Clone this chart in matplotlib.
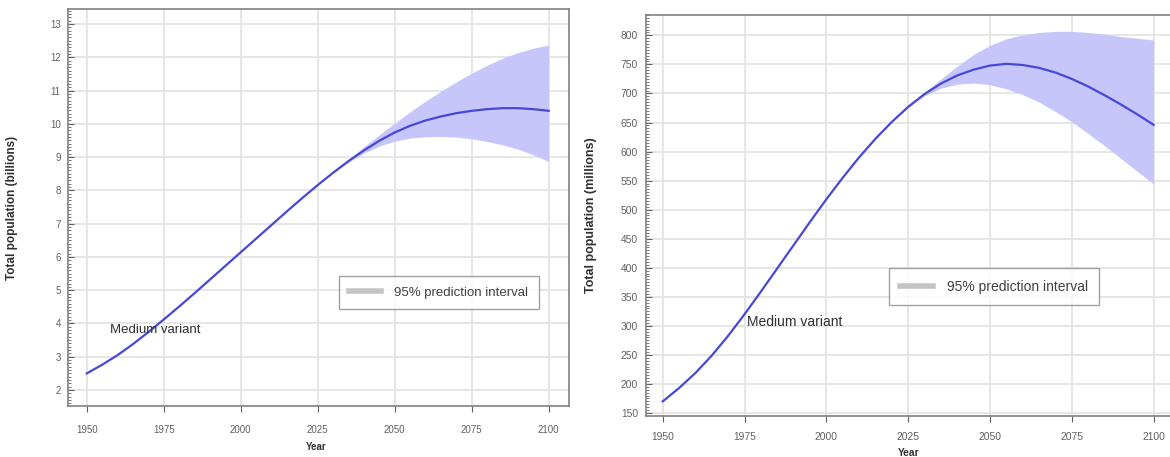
import numpy as np
import matplotlib
matplotlib.use('Agg')
import matplotlib.pyplot as plt
from matplotlib.lines import Line2D
from matplotlib.ticker import MultipleLocator

plt.rcParams['font.family'] = ['Liberation Sans', 'DejaVu Sans']

# World population, medium variant (billions)
years = [1950, 1955, 1960, 1965, 1970, 1975, 1980, 1985, 1990, 1995, 2000,
         2005, 2010, 2015, 2020, 2025, 2030, 2035, 2040, 2045, 2050, 2055,
         2060, 2065, 2070, 2075, 2080, 2085, 2090, 2095, 2100]
world_medium = [2.50, 2.76, 3.05, 3.38, 3.74, 4.12, 4.51, 4.91, 5.32, 5.73, 6.14,
                6.55, 6.96, 7.37, 7.77, 8.16, 8.53, 8.88, 9.20, 9.49, 9.74, 9.94,
                10.10, 10.22, 10.32, 10.39, 10.44, 10.47, 10.47, 10.44, 10.39]

# Latin America and the Caribbean, medium variant (millions)
region_medium = [170, 193, 219, 249, 283, 320, 359, 399, 439, 479, 518,
                 555, 590, 622, 651, 677, 699, 717, 731, 741, 748, 751,
                 749, 744, 736, 725, 712, 697, 681, 664, 646]

# 95% prediction intervals
pi_years = [2020, 2025, 2030, 2035, 2040, 2045, 2050, 2055, 2060, 2065, 2070,
            2075, 2080, 2085, 2090, 2095, 2100]
world_low = [7.77, 8.16, 8.52, 8.85, 9.12, 9.33, 9.48, 9.57, 9.61, 9.62, 9.60,
             9.55, 9.47, 9.37, 9.24, 9.07, 8.87]
world_high = [7.77, 8.17, 8.56, 8.94, 9.31, 9.67, 10.02, 10.36, 10.68, 10.98, 11.26,
              11.52, 11.76, 11.97, 12.14, 12.27, 12.37]
region_low = [651, 676, 696, 709, 716, 718, 715, 708, 698, 685, 669,
              651, 631, 610, 588, 566, 544]
region_high = [651, 678, 702, 725, 747, 767, 783, 794, 801, 805, 807,
               807, 805, 802, 798, 795, 792]

xticks = [1950, 1975, 2000, 2025, 2050, 2075, 2100]

line_color = '#4848d8'
band_color = '#c6c6fb'
grid_color = '#e4e4e4'
tick_color = '#606060'

fig = plt.figure(figsize=(11.7, 4.57), dpi=100)
ax1 = fig.add_axes([0.0584, 0.1116, 0.4279, 0.8687])
ax2 = fig.add_axes([0.5519, 0.0904, 0.4495, 0.8775])


def style_axes(ax, scale, ylabel, ymajor, yminor, xpad):
    ax.set_xticks(xticks)
    ax.yaxis.set_major_locator(MultipleLocator(ymajor))
    ax.yaxis.set_minor_locator(MultipleLocator(yminor))
    ax.grid(True, which='major', color=grid_color, linewidth=1.3)
    ax.set_axisbelow(True)
    for s in ax.spines.values():
        s.set_color('#808080')
        s.set_linewidth(1.2)
    ax.tick_params(axis='x', direction='out', length=4, width=0.8,
                   colors=tick_color, labelsize=7 * scale, pad=xpad)
    ax.tick_params(axis='y', which='major', direction='in', length=4, width=0.8,
                   colors=tick_color, labelsize=7 * scale, pad=5.5)
    ax.tick_params(axis='y', which='minor', direction='in', length=2.5, width=0.6,
                   colors=tick_color)
    ax.set_ylabel(ylabel, fontsize=8.5 * scale, fontweight='bold', color='#303030')
    ax.set_xlabel('Year', fontsize=7 * scale, fontweight='bold', color='#303030')


def add_legend(ax, center, size):
    handle = [Line2D([], [], color='#c4c4c4', linewidth=4)]
    leg = ax.legend(handle, ['95% prediction interval'], loc='center',
                    bbox_to_anchor=center, fontsize=size, frameon=True,
                    fancybox=False, edgecolor='#8a8a8a', handlelength=2.4,
                    handletextpad=1.0, borderpad=0.8)
    leg.get_frame().set_linewidth(1.0)
    for t in leg.get_texts():
        t.set_color('#404040')


# Left panel: world
ax1.fill_between(pi_years, world_low, world_high, color=band_color, linewidth=0)
ax1.plot(years, world_medium, color=line_color, linewidth=1.6, solid_joinstyle='round')
ax1.set_xlim(1944, 2106.6)
ax1.set_ylim(1.52, 13.45)
style_axes(ax1, 1.0, 'Total population (billions)', 1, 0.1, 10)
ax1.yaxis.set_label_coords(-0.100, 0.5)
ax1.xaxis.set_label_coords(0.495, -0.091)
ax1.text(1957.5, 3.79, 'Medium variant', fontsize=9.5, color='#303030', va='center')
add_legend(ax1, (0.7395, 0.286), 9.5)

# Right panel: Latin America and the Caribbean
ax2.fill_between(pi_years, region_low, region_high, color=band_color, linewidth=0)
ax2.plot(years, region_medium, color=line_color, linewidth=1.6, solid_joinstyle='round')
ax2.set_xlim(1944.8, 2105.5)
ax2.set_ylim(145.4, 835.6)
style_axes(ax2, 1.06, 'Total population (millions)', 50, 5, 8)
ax2.yaxis.set_label_coords(-0.093, 0.5)
ax2.xaxis.set_label_coords(0.50, -0.080)
ax2.text(1975.6, 307, 'Medium variant', fontsize=10, color='#303030', va='center')
add_legend(ax2, (0.662, 0.322), 10)

fig.savefig('out.png', dpi=100)
